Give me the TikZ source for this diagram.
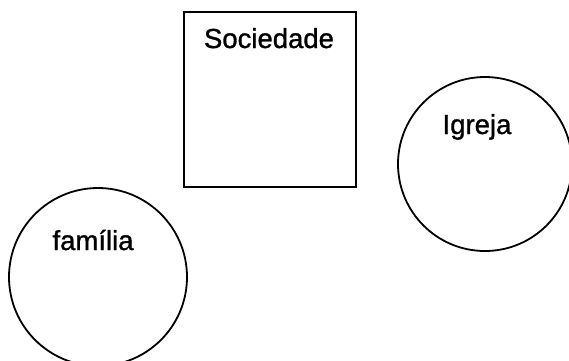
\documentclass[tikz,border=0pt]{standalone}
\usepackage{fontspec}
\setmainfont{Liberation Sans}
\newfontfamily\scanfont{Liberation Sans}[FakeBold=1.1]
\begin{document}
\begin{tikzpicture}[x=1pt,y=-1pt,
  outline/.style={draw=black,line width=1.8pt,inner sep=0pt,outer sep=0pt},
  lbl/.style={font=\scanfont\fontsize{27.5}{32}\selectfont,anchor=base,inner sep=0pt}]
\useasboundingbox (0,0) rectangle (569,360);
\node[outline,rectangle,minimum width=172pt,minimum height=175pt] (soc) at (270,99.5) {};
\node[outline,circle,minimum size=174pt] (igr) at (485,164) {};
\node[outline,circle,minimum size=178pt] (fam) at (98,277) {};
\node[lbl] (tsoc) at (269,48) {Sociedade};
\node[lbl] (tigr) at (477,134) {Igreja};
\node[lbl] (tfam) at (93,250) {família};
\end{tikzpicture}
\end{document}
